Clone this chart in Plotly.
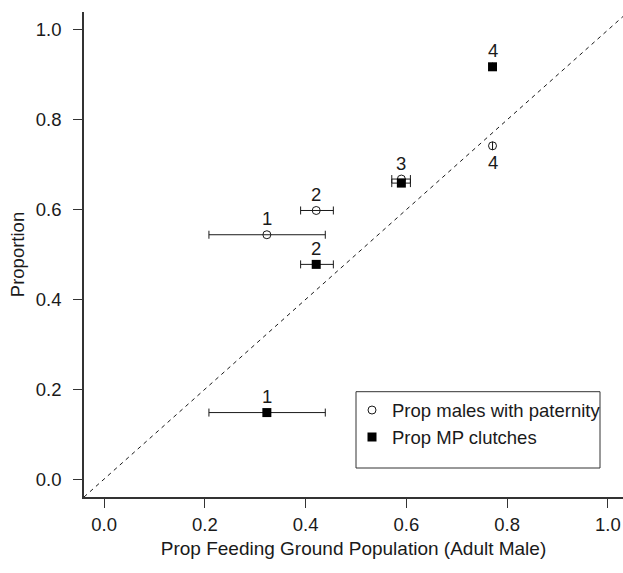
import plotly.graph_objects as go

# ---- data ----
point_labels = ["1", "2", "3", "4"]
feeding_prop = [0.323, 0.421, 0.590, 0.771]
feeding_lo = [0.208, 0.390, 0.571, 0.771]
feeding_hi = [0.439, 0.455, 0.608, 0.771]
prop_paternity = [0.544, 0.598, 0.668, 0.742]
prop_mp_clutches = [0.148, 0.478, 0.659, 0.918]
pat_label_side = ["above", "above", "above", "below"]
mp_label_side = ["above", "above", None, "above"]
x_ticks = [0.0, 0.2, 0.4, 0.6, 0.8, 1.0]
y_ticks = [0.0, 0.2, 0.4, 0.6, 0.8, 1.0]

FONT = "Liberation Sans, Arial, Helvetica, sans-serif"
FS = 18.5
INK = "#1a1a1a"

err_plus = [h - x for h, x in zip(feeding_hi, feeding_prop)]
err_minus = [x - l for l, x in zip(feeding_lo, feeding_prop)]

fig = go.Figure()

# 1:1 reference line
fig.add_trace(go.Scatter(
    x=[-0.04, 1.1], y=[-0.04, 1.1], mode="lines",
    line=dict(color=INK, width=1, dash="4px,4px"),
    showlegend=False, hoverinfo="skip"))

errx = dict(type="data", symmetric=False, array=err_plus, arrayminus=err_minus,
            color=INK, thickness=1, width=4)

fig.add_trace(go.Scatter(
    x=feeding_prop, y=prop_paternity, mode="markers",
    name="Prop males with paternity",
    marker=dict(symbol="circle-open", size=8, color=INK, line=dict(width=1, color=INK)),
    error_x=errx))

fig.add_trace(go.Scatter(
    x=feeding_prop, y=prop_mp_clutches, mode="markers",
    name="Prop MP clutches",
    marker=dict(symbol="square", size=9, color="black"),
    error_x=errx))

annotations = []
for xs, ys, sides in [(feeding_prop, prop_paternity, pat_label_side),
                      (feeding_prop, prop_mp_clutches, mp_label_side)]:
    for lab, xv, yv, side in zip(point_labels, xs, ys, sides):
        if side is None:
            continue
        annotations.append(dict(
            x=xv, y=yv, xref="x", yref="y", text=lab, showarrow=False,
            yshift=16 if side == "above" else -17,
            font=dict(family=FONT, size=FS, color=INK)))

fig.update_layout(
    width=623, height=573,
    margin=dict(l=84, r=0, t=12, b=76),
    paper_bgcolor="white", plot_bgcolor="white",
    font=dict(family=FONT, size=FS, color=INK),
    annotations=annotations,
    showlegend=True,
    legend=dict(
        x=(352 - 84) / 539, y=(497 - 391.5) / 485, xanchor="left", yanchor="top",
        bgcolor="rgba(0,0,0,0)", borderwidth=0,
        font=dict(family=FONT, size=FS, color=INK),
        itemwidth=30, tracegroupgap=0),
    shapes=[dict(type="rect", xref="paper", yref="paper",
                 x0=(356 - 84) / 539, x1=(600 - 84) / 539,
                 y0=(497 - 468) / 485, y1=(497 - 391.7) / 485,
                 line=dict(color="#333333", width=1), fillcolor="rgba(0,0,0,0)")],
)

fig.update_xaxes(
    range=[-0.04, 1.03], tickvals=x_ticks, ticktext=[f"{v:.1f}" for v in x_ticks],
    showline=True, linecolor="#333333", linewidth=1.5, mirror=False,
    ticks="outside", ticklen=9, tickcolor="#333333", tickwidth=1,
    showgrid=False, zeroline=False, ticklabelstandoff=1, automargin=False,
    title=dict(text="Prop Feeding Ground Population (Adult Male)",
               font=dict(family=FONT, size=19, color=INK), standoff=8))

fig.update_yaxes(
    range=[-0.04, 1.04], tickvals=y_ticks, ticktext=[f"{v:.1f}" for v in y_ticks],
    showline=True, linecolor="#333333", linewidth=1.5, mirror=False,
    ticks="outside", ticklen=9, tickcolor="#333333", tickwidth=1,
    showgrid=False, zeroline=False, ticklabelstandoff=8, automargin=False,
    title=dict(text="Proportion", font=dict(family=FONT, size=FS, color=INK), standoff=6))

fig.write_html(
    "out.html",
    config={"displayModeBar": False},
    post_script="document.body.style.margin='0';document.body.style.overflow='hidden';")
